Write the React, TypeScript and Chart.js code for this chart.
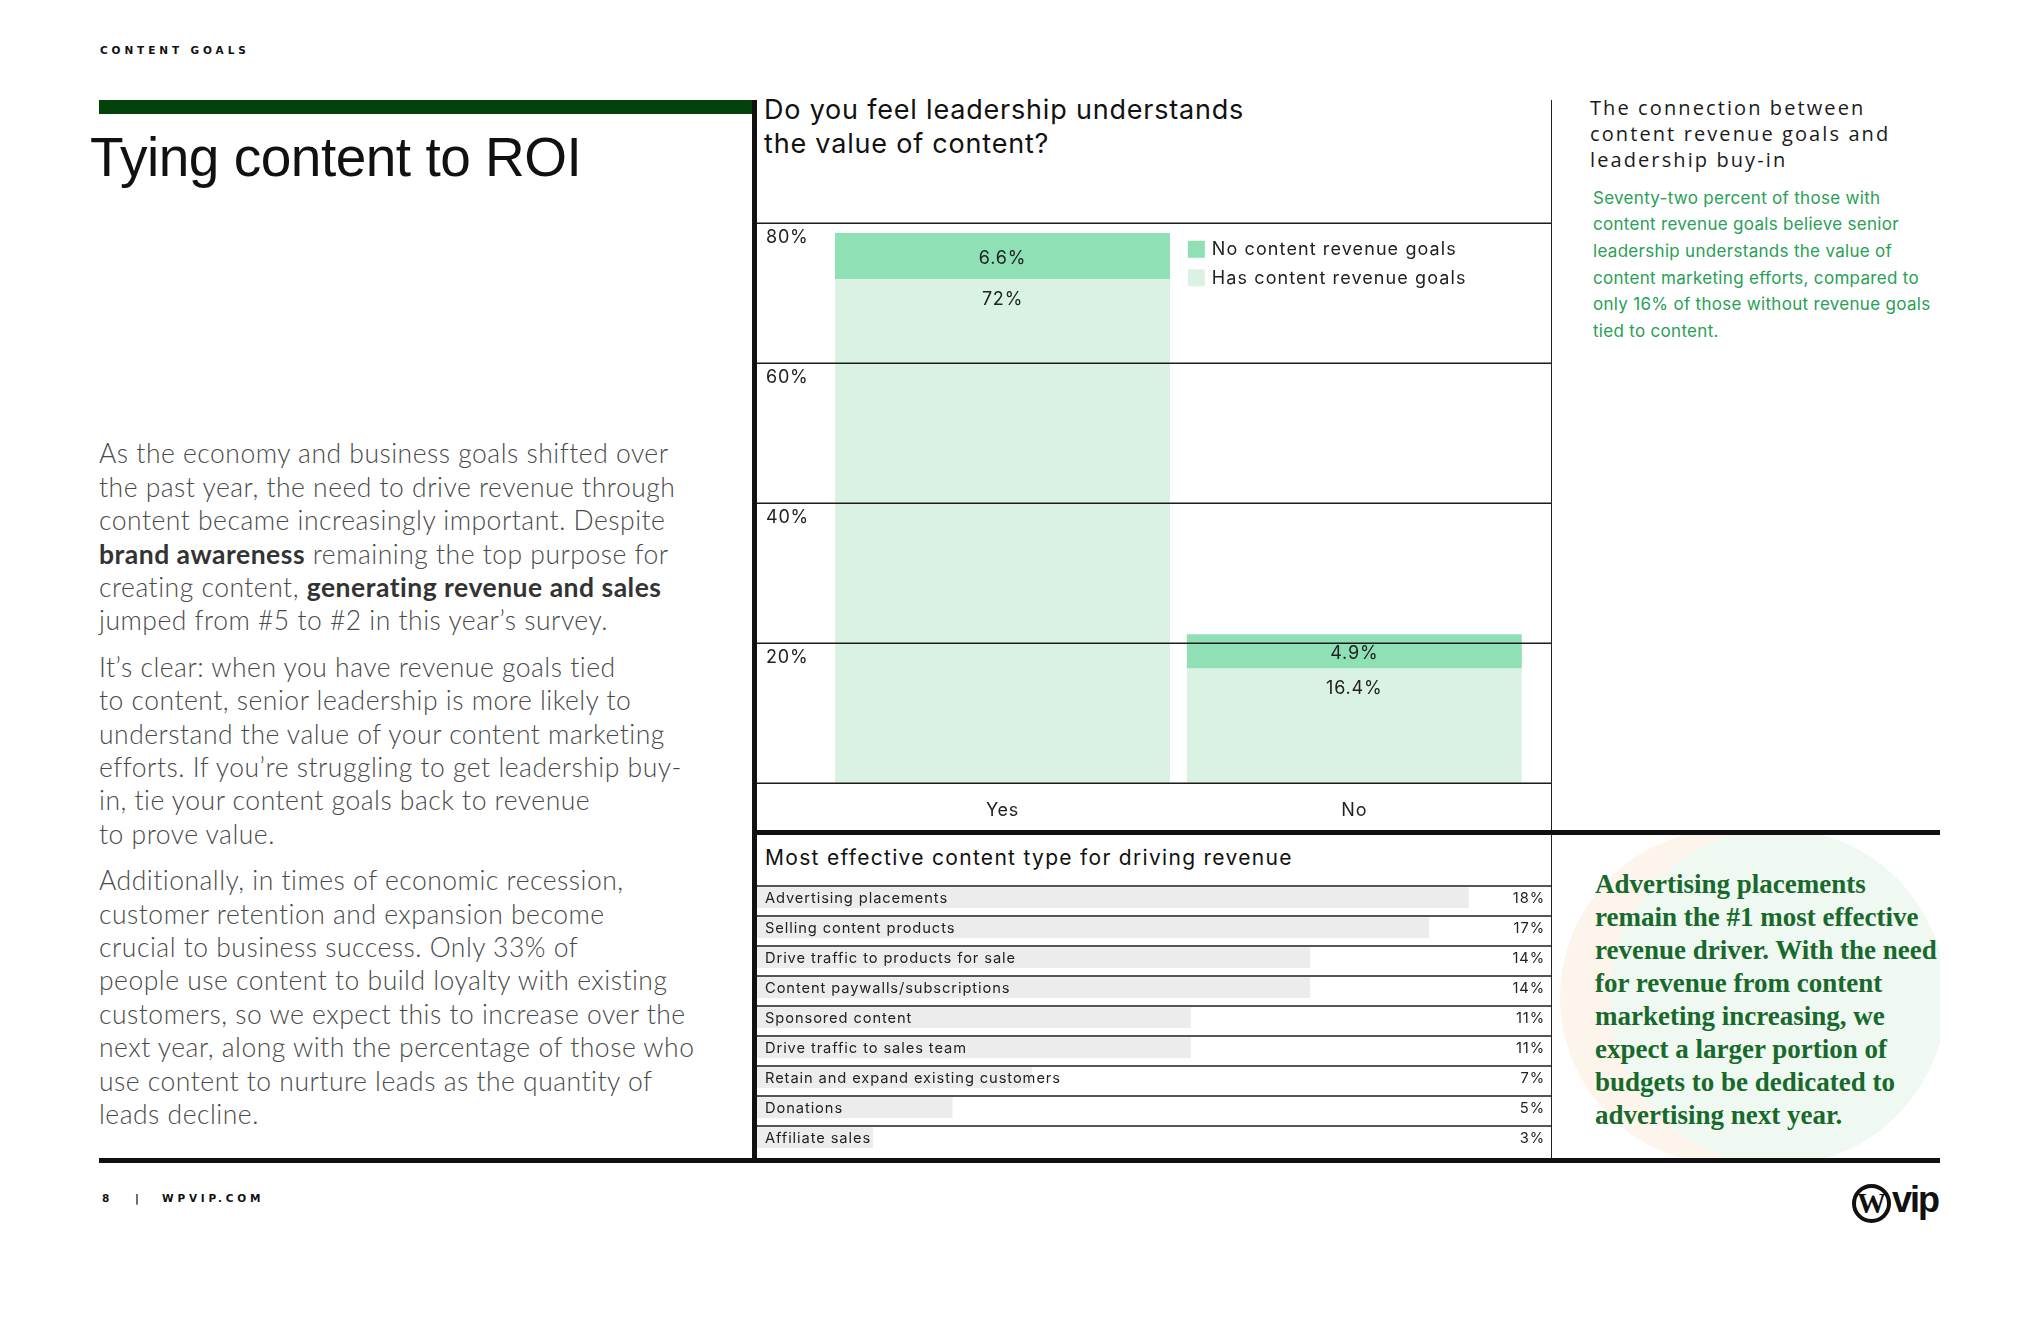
import React, { useEffect, useRef } from "react";
import { Chart, registerables } from "chart.js";

Chart.register(...registerables);

// ---------- data ----------
const leaderCategories = ["Yes", "No"];
const hasGoalsValues = [72, 16.4];
const noGoalsValues = [6.6, 4.9];
const hasGoalsLabel = "Has content revenue goals";
const noGoalsLabel = "No content revenue goals";
const leaderTicks = [80, 60, 40, 20];

const typeLabels = [
  "Advertising placements",
  "Selling content products",
  "Drive traffic to products for sale",
  "Content paywalls/subscriptions",
  "Sponsored content",
  "Drive traffic to sales team",
  "Retain and expand existing customers",
  "Donations",
  "Affiliate sales",
];
const typeValues = [18, 17, 14, 14, 11, 11, 7, 5, 3];

// ---------- styles ----------
const DARK_GREEN = "#8fe0b5";
const LIGHT_GREEN = "#d9f2e4";
const BAR_GREY = "#ececec";
const INK = "#1c1c1c";

const leaderPlugin = {
  id: "leaderDecor",
  afterDatasetsDraw(chart: any) {
    const { ctx, chartArea, scales } = chart;
    const ys = scales.y;
    const xs = scales.x;
    ctx.save();
    // grid lines across the full panel width
    ctx.strokeStyle = INK;
    ctx.lineWidth = 1.5;
    [...leaderTicks, 0].forEach((v) => {
      const py = ys.getPixelForValue(v);
      ctx.beginPath();
      ctx.moveTo(0, py);
      ctx.lineTo(chart.width, py);
      ctx.stroke();
    });
    ctx.fillStyle = "#222";
    ctx.textBaseline = "middle";
    (ctx as any).letterSpacing = "0.8px";
    // tick labels
    ctx.font = "400 18px Inter";
    ctx.textAlign = "left";
    leaderTicks.forEach((v) => ctx.fillText(`${v}%`, 12, ys.getPixelForValue(v) + 14));
    // category labels
    ctx.textAlign = "center";
    leaderCategories.forEach((c, i) => ctx.fillText(c, xs.getPixelForValue(i), chartArea.bottom + 27));
    // segment labels
    chart.data.datasets.forEach((ds: any, di: number) => {
      const meta = chart.getDatasetMeta(di);
      meta.data.forEach((bar: any, j: number) => {
        const p = bar.getProps(["x", "y", "base"], true);
        const v = ds.data[j];
        const ly = di === 1 ? (p.y + p.base) / 2 + 2 : p.y + 20;
        ctx.fillText(`${v}%`, p.x, ly);
      });
    });
    // legend (top series first)
    const ref = chart.getDatasetMeta(0).data[1].getProps(["x", "width"], true);
    const lx = ref.x - ref.width / 2 + 1;
    const order = [1, 0];
    ctx.textAlign = "left";
    ctx.font = "400 18px Inter";
    (ctx as any).letterSpacing = "1.1px";
    order.forEach((di, k) => {
      const ds = chart.data.datasets[di];
      const top = chartArea.top + 17.5 + k * 28.5;
      ctx.fillStyle = ds.backgroundColor;
      ctx.fillRect(lx, top, 17, 17);
      ctx.fillStyle = "#222";
      ctx.fillText(ds.label, lx + 24, top + 9);
    });
    ctx.restore();
  },
};

const typePlugin = {
  id: "typeDecor",
  afterDatasetsDraw(chart: any) {
    const { ctx, chartArea, scales } = chart;
    const ys = scales.y;
    const step = (chartArea.bottom - chartArea.top) / typeLabels.length;
    const shift = 3.3;
    ctx.save();
    ctx.strokeStyle = INK;
    ctx.lineWidth = 1.5;
    typeLabels.forEach((_, i) => {
      const py = ys.getPixelForValue(i) - step / 2 + shift;
      ctx.beginPath();
      ctx.moveTo(0, py);
      ctx.lineTo(chart.width, py);
      ctx.stroke();
    });
    ctx.fillStyle = "#222";
    ctx.textBaseline = "middle";
    ctx.font = "400 14.7px Inter";
    (ctx as any).letterSpacing = "0.9px";
    typeLabels.forEach((l, i) => {
      const py = ys.getPixelForValue(i) + 1.3;
      ctx.textAlign = "left";
      ctx.fillText(l, 11, py);
      ctx.textAlign = "right";
      ctx.fillText(`${typeValues[i]}%`, chart.width - 6, py);
    });
    ctx.restore();
  },
};

function LeaderChart() {
  const ref = useRef<HTMLCanvasElement>(null);
  useEffect(() => {
    const chart = new Chart(ref.current as HTMLCanvasElement, {
      type: "bar",
      data: {
        labels: leaderCategories,
        datasets: [
          { label: hasGoalsLabel, data: hasGoalsValues, backgroundColor: LIGHT_GREEN, stack: "s" },
          { label: noGoalsLabel, data: noGoalsValues, backgroundColor: DARK_GREEN, stack: "s" },
        ],
      },
      options: {
        animation: false,
        responsive: false,
        maintainAspectRatio: false,
        devicePixelRatio: 1,
        layout: { padding: { left: 72.6, right: 20.8, top: 33.3, bottom: 46.8 } },
        datasets: { bar: { barPercentage: 0.952, categoryPercentage: 1 } },
        scales: {
          x: { display: false, stacked: true },
          y: { display: false, stacked: true, min: 0, max: 80 },
        },
        plugins: { legend: { display: false }, tooltip: { enabled: false } },
      } as any,
      plugins: [leaderPlugin],
    });
    return () => chart.destroy();
  }, []);
  return (
    <canvas
      ref={ref}
      width={797}
      height={640}
      style={{ position: "absolute", left: 754, top: 190, width: 797, height: 640 }}
    />
  );
}

function TypeChart() {
  const ref = useRef<HTMLCanvasElement>(null);
  useEffect(() => {
    const chart = new Chart(ref.current as HTMLCanvasElement, {
      type: "bar",
      data: {
        labels: typeLabels,
        datasets: [{ data: typeValues, backgroundColor: BAR_GREY, barPercentage: 0.69, categoryPercentage: 1 }],
      },
      options: {
        indexAxis: "y",
        animation: false,
        responsive: false,
        maintainAspectRatio: false,
        devicePixelRatio: 1,
        layout: { padding: { left: 0, right: 2.8, top: 6.7, bottom: 5.3 } },
        scales: {
          x: { display: false, min: 0, max: 20 },
          y: { display: false },
        },
        plugins: { legend: { display: false }, tooltip: { enabled: false } },
      } as any,
      plugins: [typePlugin],
    });
    return () => chart.destroy();
  }, []);
  return (
    <canvas
      ref={ref}
      width={797}
      height={282}
      style={{ position: "absolute", left: 754, top: 876, width: 797, height: 282 }}
    />
  );
}

const abs = (s: React.CSSProperties): React.CSSProperties => ({ position: "absolute", ...s });

export default function App() {
  const bodyStyle: React.CSSProperties = {
    fontFamily: "Lato, Inter, sans-serif",
    fontWeight: 300,
    fontSize: 26.5,
    lineHeight: "33.4px",
    color: "#4a4a4a",
    whiteSpace: "nowrap",
    letterSpacing: "0.5px",
  };
  const b: React.CSSProperties = { fontWeight: 700, color: "#333" };
  return (
    <div style={{ position: "absolute", left: 0, top: 0, width: 2040, height: 1320, background: "#fff", overflow: "hidden" }}>
      {/* header */}
      <div style={abs({ left: 100, top: 43.5, lineHeight: "12px", fontFamily: "'DejaVu Sans', sans-serif", fontWeight: 700, fontSize: 10.5, letterSpacing: "3.9px", color: "#111", whiteSpace: "nowrap" })}>
        CONTENT GOALS
      </div>
      <div style={abs({ left: 99, top: 100, width: 655, height: 14, background: "#02420a" })} />
      <div style={abs({ left: 90, top: 130.4, lineHeight: "55px", fontFamily: "'Liberation Sans', Arial, sans-serif", fontSize: 55, letterSpacing: "-0.5px", color: "#111", whiteSpace: "nowrap" })}>
        Tying content to ROI
      </div>

      {/* left body */}
      <div style={abs({ left: 99, top: 437.3, ...bodyStyle })}>
        As the economy and business goals shifted over<br />
        the past year, the need to drive revenue through<br />
        content became increasingly important. Despite<br />
        <span style={b}>brand awareness</span> remaining the top purpose for<br />
        creating content, <span style={b}>generating revenue and sales</span><br />
        jumped from #5 to #2 in this year’s survey.
      </div>
      <div style={abs({ left: 99, top: 650.7, ...bodyStyle })}>
        It’s clear: when you have revenue goals tied<br />
        to content, senior leadership is more likely to<br />
        understand the value of your content marketing<br />
        efforts. If you’re struggling to get leadership buy-<br />
        in, tie your content goals back to revenue<br />
        to prove value.
      </div>
      <div style={abs({ left: 99, top: 864.1, ...bodyStyle })}>
        Additionally, in times of economic recession,<br />
        customer retention and expansion become<br />
        crucial to business success. Only 33% of<br />
        people use content to build loyalty with existing<br />
        customers, so we expect this to increase over the<br />
        next year, along with the percentage of those who<br />
        use content to nurture leads as the quantity of<br />
        leads decline.
      </div>

      {/* bottom-right decorative circles */}
      <div style={abs({ left: 1553, top: 834, width: 387, height: 324, overflow: "hidden" })}>
        <div style={abs({ left: 7, top: -5, width: 336, height: 336, borderRadius: "50%", background: "#fdf5ec" })} />
        <div style={abs({ left: 57, top: -5, width: 336, height: 336, borderRadius: "50%", background: "#eff8f1" })} />
      </div>

      {/* charts */}
      <LeaderChart />
      <TypeChart />

      {/* chart titles */}
      <div style={abs({ left: 764, top: 93, lineHeight: "34px", fontFamily: "Inter, sans-serif", fontSize: 27, color: "#111", whiteSpace: "nowrap", letterSpacing: "0.8px" })}>
        Do you feel leadership understands<br />the value of content?
      </div>
      <div style={abs({ left: 765, top: 846, lineHeight: "24px", fontFamily: "Inter, sans-serif", fontSize: 21, color: "#111", whiteSpace: "nowrap", letterSpacing: "1.3px" })}>
        Most effective content type for driving revenue
      </div>

      {/* rules */}
      <div style={abs({ left: 752, top: 100, width: 4.5, height: 1062, background: "#111" })} />
      <div style={abs({ left: 1550.5, top: 100, width: 1.5, height: 1060, background: "#222" })} />
      <div style={abs({ left: 754, top: 830, width: 1186, height: 4.5, background: "#111" })} />
      <div style={abs({ left: 99, top: 1158, width: 1841, height: 4.5, background: "#111" })} />

      {/* right panel */}
      <div style={abs({ left: 1590, top: 94.7, lineHeight: "26.3px", fontFamily: "'Open Sans', sans-serif", fontWeight: 500, fontSize: 20, letterSpacing: "2.1px", color: "#1a1a1a", whiteSpace: "nowrap" })}>
        The connection between<br />content revenue goals and<br />leadership buy-in
      </div>
      <div style={abs({ left: 1593, top: 184.6, lineHeight: "26.7px", fontFamily: "Inter, sans-serif", fontSize: 17, letterSpacing: "0.3px", color: "#28a055", whiteSpace: "nowrap" })}>
        Seventy-two percent of those with<br />
        content revenue goals believe senior<br />
        leadership understands the value of<br />
        content marketing efforts, compared to<br />
        only 16% of those without revenue goals<br />
        tied to content.
      </div>
      <div style={abs({ left: 1595, top: 867.5, lineHeight: "33px", fontFamily: "'Liberation Serif', serif", fontWeight: 700, fontSize: 27, color: "#176a2c", whiteSpace: "nowrap" })}>
        Advertising placements<br />
        remain the #1 most effective<br />
        revenue driver. With the need<br />
        for revenue from content<br />
        marketing increasing, we<br />
        expect a larger portion of<br />
        budgets to be dedicated to<br />
        advertising next year.
      </div>

      {/* footer */}
      <div style={abs({ left: 102, top: 1192, lineHeight: "12px", fontFamily: "'DejaVu Sans', sans-serif", fontWeight: 700, fontSize: 10.5, letterSpacing: "3.8px", color: "#111", whiteSpace: "nowrap" })}>
        8<span style={{ position: "absolute", left: 33 }}>|</span>
        <span style={{ position: "absolute", left: 60 }}>WPVIP.COM</span>
      </div>
      <div style={abs({ left: 1852, top: 1184, width: 31, height: 31, border: "4px solid #111", borderRadius: "50%", textAlign: "center", lineHeight: "31px", fontFamily: "'Liberation Serif', serif", fontWeight: 700, fontSize: 29, color: "#111" })}>
        W
      </div>
      <div style={abs({ left: 1892, top: 1181, lineHeight: "38px", fontFamily: "'Liberation Sans', Arial, sans-serif", fontWeight: 700, fontSize: 36, letterSpacing: "-2px", color: "#111" })}>
        vip
      </div>
    </div>
  );
}
